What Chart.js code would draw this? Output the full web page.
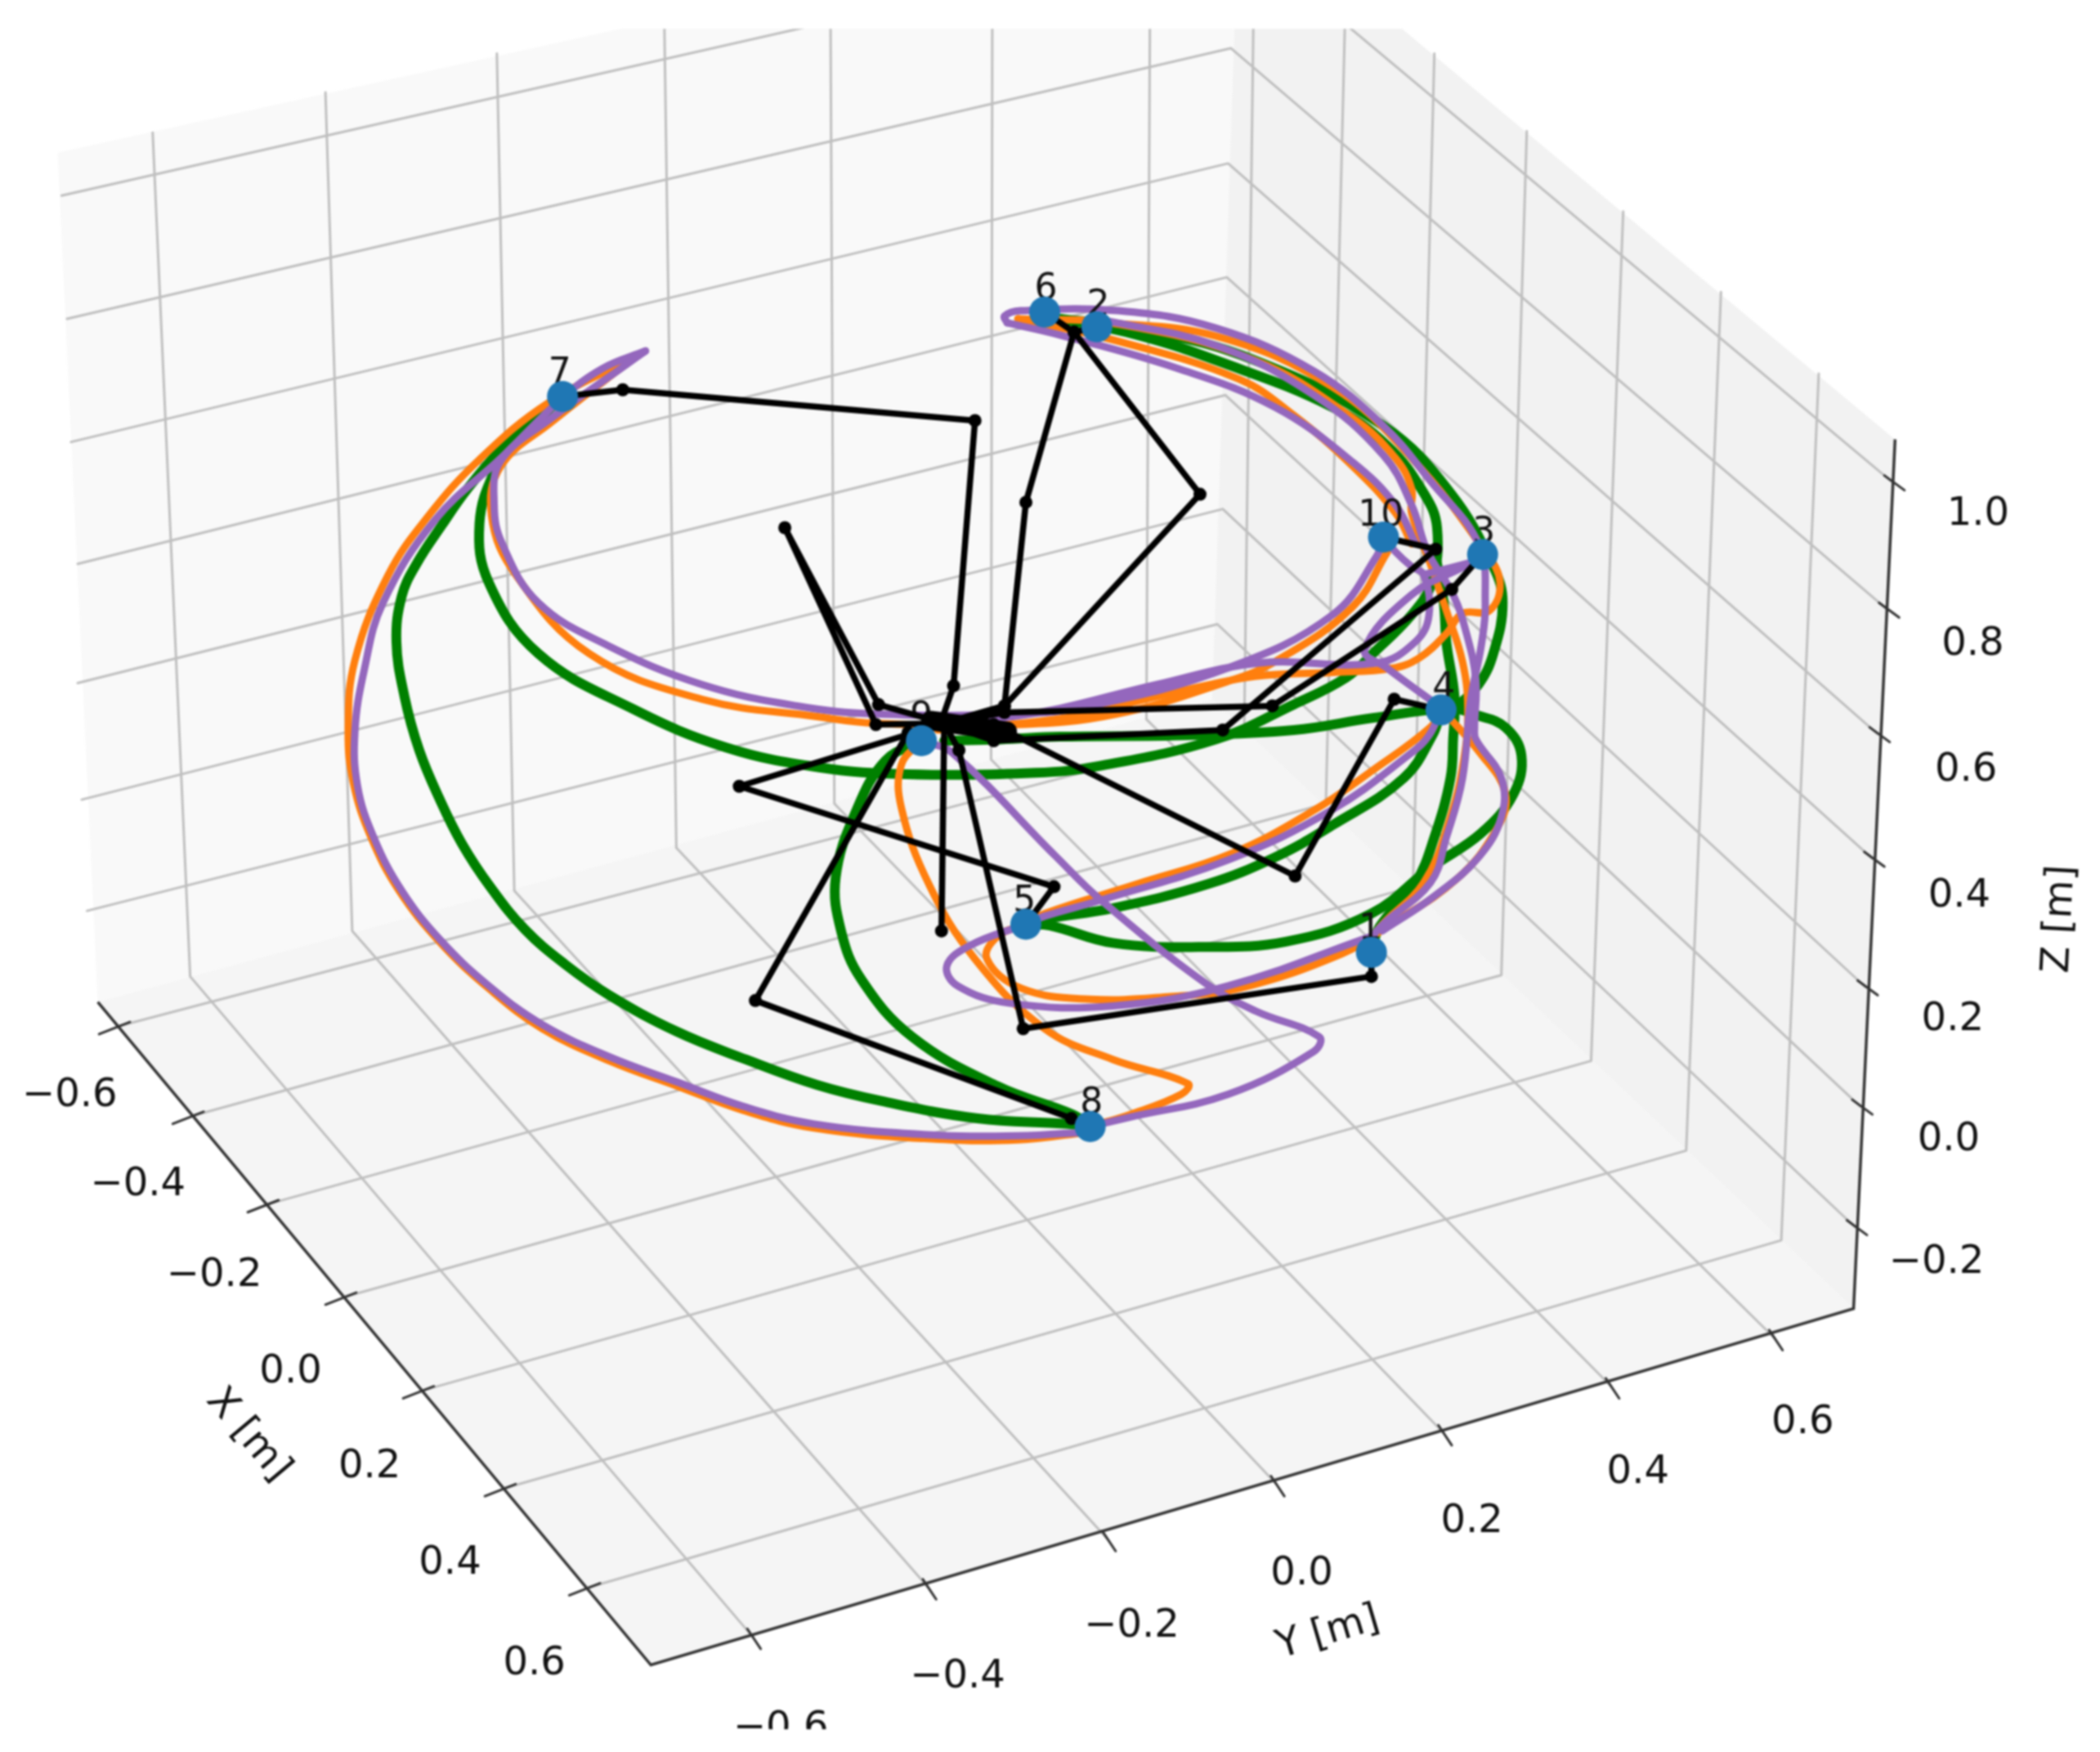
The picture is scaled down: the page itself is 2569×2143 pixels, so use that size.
<!DOCTYPE html>
<html>
<head>
<meta charset="utf-8">
<title>Trajectories 3D view</title>
<script src="https://cdn.jsdelivr.net/npm/chart.js@4/dist/chart.umd.js"></script>
<style>
  html, body { margin: 0; padding: 0; background: #fff; }
  canvas { display: block; filter: blur(1.2px); }
</style>
</head>
<body>
<canvas id="chart" width="2569" height="2143"></canvas>
<script>
'use strict';

// The figure is a 3D view, Chart.js has no 3D, so everything is read off the
// picture plane. Both hidden linear scales run over the plane (0-1568, 0-1308).
const PLANE_W = 1568;
const PLANE_H = 1308;

// --- box -------------------------------------------------------------------
const leftWall = [[43,114],[925,-80],[905,522],[73,748]];
const rightWall = [[925,-80],[1415,328],[1384,977],[905,522]];
const floorPane = [[73,748],[905,522],[1384,977],[486,1243]];
const axisEdges = [[73,748],[486,1243],[1384,977],[1415,328]];

// --- tick labels -----------------------------------------------------------
const xTickLabels = ['\u22120.6','\u22120.4','\u22120.2','0.0','0.2','0.4','0.6'];
const yTickLabels = ['\u22120.6','\u22120.4','\u22120.2','0.0','0.2','0.4','0.6'];
const zTickLabels = ['\u22120.2','0.0','0.2','0.4','0.6','0.8','1.0'];

const xTicks = [[89,766],[144,833],[200,899],[258,968],[316,1038],[377,1111],[440,1185]];
const yTicks = [[562,1222],[693,1185],[827,1149],[953,1108],[1078,1070],[1203,1035],[1325,999]];
const zTicks = [[1385,916],[1389,826],[1393,737],[1398,641],[1402,548],[1409,455],[1413,360]];

const xLabelAt = [[52,816],[103,882],[160,950],[217,1022],[276,1093],[336,1165],[399,1240]];
const yLabelAt = [[583,1288],[715,1250],[845,1212],[972,1173],[1099,1134],[1223,1097],[1346,1060]];
const zLabelAt = [[1446,940],[1455,849],[1458,759],[1463,667],[1468,573],[1473,479],[1477,382]];

// --- where the grid lines land on the back edges ---------------------------
const leftWallFoot = [[142,729],[263,695],[384,665],[505,633],[623,600],[740,567],[856,537]];
const leftWallHead = [[114,99],[243,69],[371,40],[496,14],[620,-12],[741,-37],[859,-63]];
const rightWallFoot = [[929,545],[990,600],[1055,662],[1121,728],[1188,792],[1259,859],[1330,926]];
const rightWallHead = [[937,-70],[1005,-15],[1071,40],[1140,98],[1212,158],[1285,218],[1358,279]];
const leftWallZ = [[65,680],[61,597],[58,510],[58,421],[53,330],[50,238],[46,146]];
const backCornerZ = [[909,466],[913,380],[915,295],[916,207],[917,122],[919,36],[921,-52]];

// --- green trajectory ------------------------------------------------------
const greenOuter = [[814,841],[795,839],[730,835],[658,822],[610,810],[557,791],[505,770],[455,743],[422,720],[392,694],[366,662],[345,630],[328,596],[313,560],[302,520],[296,479],[300,445],[311,421],[330,392],[349,365],[375,335],[405,310],[420,296]];
const greenInner = [[420,296],[385,330],[370,350],[358,391],[365,435],[402,488],[472,529],[542,558],[612,573],[676,578],[773,577],[820,572],[908,552],[966,526],[1005,506],[1025,488],[1054,459],[1069,435],[1073,394],[1063,368],[1036,333],[995,304],[908,269],[849,250],[791,238]];
const greenArc = [[791,238],[849,245],[937,269],[1033,318],[1083,368],[1115,423],[1122,450],[1115,488],[1104,511],[1085,530]];
const greenFourFive = [[1076,530],[1070,548],[1048,581],[995,616],[952,640],[902,660],[831,678],[780,686],[766,690]];
const greenBulge = [[766,690],[784,691],[831,704],[895,707],[960,703],[1024,682],[1068,648],[1106,622],[1130,593],[1136,564],[1124,543],[1103,534],[1083,529],[1025,536],[966,545],[879,549],[791,550],[747,552],[705,553]];
const greenNineEight = [[688,553],[661,568],[639,606],[624,655],[628,695],[643,731],[681,774],[745,811],[801,832],[814,841]];
const greenOneUp = [[1024,711],[1030,692],[1057,659],[1071,625],[1083,581],[1085,552],[1086,520],[1080,480],[1078,450],[1072,415]];

// --- orange trajectory -----------------------------------------------------
const orangeOuter = [[814,845],[760,851],[690,850],[607,842],[555,829],[506,811],[455,792],[405,768],[365,738],[329,704],[298,665],[277,625],[264,585],[260,546],[265,493],[290,429],[320,385],[358,343],[409,301],[475,266]];
const orangeInner = [[475,266],[412,315],[374,348],[367,385],[385,429],[440,488],[524,522],[610,535],[654,540],[759,541],[834,533],[916,509],[952,494],[1010,453],[1036,412]];
const orangeBack = [[1054,406],[1042,383],[1010,348],[966,310],[925,283],[832,254],[760,238]];
const orangeDown = [[760,238],[835,242],[937,269],[1010,312],[1042,342],[1054,365],[1054,383],[1068,421],[1080,456],[1092,494],[1096,529],[1093,567],[1083,610],[1063,659],[1028,695],[1024,711]];
const orangeArc = [[819,240],[908,251],[995,289],[1054,342],[1109,412],[1120,435],[1112,456],[1092,458],[1080,473],[1060,491],[1039,499],[995,502],[937,505],[864,520],[806,534],[762,540],[700,545]];
const orangeFourFive = [[1076,530],[1068,543],[1025,575],[981,605],[920,637],[849,660],[780,682],[766,690]];
const orangeLoop = [[766,690],[745,699],[737,716],[763,738],[814,746],[874,744],[925,738],[1002,712],[1037,691],[1088,656],[1118,618],[1124,592],[1105,562],[1077,530]];
const orangeNineEight = [[688,553],[673,571],[673,603],[694,661],[728,716],[780,768],[831,791],[887,809],[882,817],[844,832],[814,841]];

// --- purple trajectory -----------------------------------------------------
const purpleOuter = [[814,845],[760,848],[690,847],[607,839],[555,826],[506,808],[455,789],[405,765],[365,736],[329,702],[300,665],[279,625],[267,587],[265,546],[272,500],[286,450],[325,388],[374,342],[420,297],[450,275],[482,262]];
const purpleInner = [[482,262],[468,272],[412,312],[374,344],[369,377],[375,406],[402,450],[454,482],[524,511],[595,527],[654,533],[757,533],[814,527],[916,499],[995,459],[1028,415],[1033,401]];
const purpleBack = [[1057,406],[1042,377],[1010,345],[952,304],[879,275],[791,250],[752,241]];
const purpleTop = [[752,241],[750,236],[762,232],[835,232],[908,245],[981,277],[1033,318],[1068,359],[1104,406],[1109,450],[1106,482],[1098,523],[1092,581],[1080,625],[1068,659],[1028,695],[1024,711]];
const purpleBulge = [[819,238],[908,258],[981,295],[1033,340],[1054,377],[1066,412],[1085,444],[1095,473],[1102,508],[1101,543],[1102,552],[1121,581],[1121,610],[1104,640],[1071,669],[1032,695]];
const purpleThreeFour = [[1107,414],[1095,422],[1054,444],[1019,485],[1036,499],[1077,529]];
const purpleTenLoop = [[1033,401],[1042,412],[1054,423],[1063,429],[1067,459],[1057,479],[1028,495],[940,495],[864,511],[791,529],[756,535],[700,540]];
const purpleThreeLoop = [[1098,420],[1075,426],[1063,429]];
const purpleFourFive = [[1076,530],[1067,549],[1054,562],[994,605],[917,642],[822,672],[780,684],[766,690]];
const purpleLoop = [[766,690],[724,706],[707,721],[715,736],[754,749],[831,751],[917,736],[1024,699]];
const purpleNineEight = [[688,553],[711,562],[788,639],[822,672],[900,734],[938,755],[985,774],[981,785],[917,817],[844,834],[814,841]];

// --- black arm poses -------------------------------------------------------
const armSeven = [[703,538],[712,512],[728,314],[465,291],[420,296]];
const armSix = [[705,540],[750,527],[766,375],[802,248],[780,233]];
const armTwo = [[705,540],[750,527],[896,369],[802,248],[819,244]];
const armFold = [[705,540],[656,526],[586,394],[654,541],[705,540]];
const armThree = [[705,540],[750,532],[950,527],[1084,440],[1107,414]];
const armTen = [[705,540],[742,553],[913,545],[1072,410],[1033,401]];
const armFour = [[705,540],[742,541],[967,654],[1041,522],[1076,530]];
const armOne = [[705,540],[716,560],[764,768],[1024,729],[1024,711]];
const armEight = [[705,540],[678,547],[564,747],[800,835],[814,841]];
const armFive = [[705,540],[552,587],[787,662],[766,690]];
const armDown = [[705,540],[703,695],[705,540]];
const armHub = [[695,538],[752,546]];

// --- numbered way points ---------------------------------------------------
const wayPointNames = ['1','2','3','4','5','6','7','8','9','10'];
const wayPoints = [[1024,711],[819,244],[1107,414],[1076,530],[766,690],[780,233],[420,296],[814,841],[688,553],[1033,401]];
const wayLabelAt = [[1023,692],[820,226],[1108,396],[1078,512],[765,671],[781,214],[418,277],[815,822],[688,534],[1031,383]];

const toXY = pts => pts.map(p => ({ x: p[0], y: p[1] }));
const datasets = [];

function addPane(pts, color) {
  datasets.push({ data: toXY(pts), showLine: true, fill: 'shape', backgroundColor: color, borderWidth: 0, pointRadius: 0 });
}
function addLine(pts, color, width, extra) {
  datasets.push(Object.assign({
    data: toXY(pts), showLine: true, fill: false, borderColor: color, borderWidth: width,
    borderCapStyle: 'round', borderJoinStyle: 'round', pointRadius: 0
  }, extra || {}));
}

addPane(leftWall, '#f9f9f9');
addPane(rightWall, '#f2f2f2');
addPane(floorPane, '#f5f5f5');

// grid, back walls then floor
const GRID = '#bfbfbf';
leftWallFoot.forEach((p, i) => addLine([leftWallHead[i], p, yTicks[i]], GRID, 3));
rightWallFoot.forEach((p, i) => addLine([rightWallHead[i], p, xTicks[i]], GRID, 3));
backCornerZ.forEach((p, i) => addLine([leftWallZ[i], p, zTicks[i]], GRID, 3));

// axis edges and tick marks
addLine(axisEdges, '#333', 3.5, { borderCapStyle: 'butt', borderJoinStyle: 'miter' });
xTicks.forEach(p => addLine([[p[0] - 15, p[1] + 6], [p[0] + 8, p[1] - 3]], '#333', 3));
yTicks.forEach(p => addLine([[p[0] - 4, p[1] - 6], [p[0] + 6, p[1] + 9]], '#333', 3));
zTicks.forEach(p => addLine([[p[0] - 6, p[1] - 5], [p[0] + 9, p[1] + 6]], '#333', 3));

const CURVE = { tension: 0.4 };
[greenOuter, greenInner, greenArc, greenFourFive, greenBulge, greenNineEight, greenOneUp]
  .forEach(c => addLine(c, '#008000', 12, CURVE));
[orangeOuter, orangeInner, orangeBack, orangeDown, orangeArc, orangeFourFive, orangeLoop, orangeNineEight]
  .forEach(c => addLine(c, '#ff7f0e', 9, CURVE));
[purpleOuter, purpleInner, purpleBack, purpleTop, purpleBulge, purpleThreeFour, purpleTenLoop, purpleThreeLoop, purpleFourFive, purpleLoop, purpleNineEight]
  .forEach(c => addLine(c, '#9467bd', 9, CURVE));

// way point numbers sit under the arms and the blue dots
const numbersAfter = datasets.length - 1;

[armSeven, armSix, armTwo, armFold, armThree, armTen, armFour, armOne, armEight, armFive, armDown]
  .forEach(a => addLine(a, '#000', 7.5, { pointRadius: 8, pointBackgroundColor: '#000', pointBorderWidth: 0 }));
addLine(armHub, '#000', 24);

datasets.push({ data: toXY(wayPoints), showLine: false, pointRadius: 19, pointBackgroundColor: '#1f77b4', pointBorderWidth: 0 });

// paint in the order pushed: Chart.js draws the highest order first
datasets.forEach((d, i) => { d.order = datasets.length - i; });

function putText(chart, text, at, rotDeg) {
  const ctx = chart.ctx;
  ctx.save();
  ctx.translate(chart.scales.x.getPixelForValue(at[0]), chart.scales.y.getPixelForValue(at[1]));
  if (rotDeg) ctx.rotate(rotDeg * Math.PI / 180);
  ctx.fillText(text, 0, 4);
  ctx.restore();
}

const textPlugin = {
  id: 'planeText',
  afterDatasetDraw(chart, args) {
    if (args.index !== numbersAfter) return;
    const ctx = chart.ctx;
    ctx.font = '44px "DejaVu Sans"';
    ctx.fillStyle = '#111';
    ctx.textAlign = 'center';
    ctx.textBaseline = 'middle';
    wayPointNames.forEach((t, i) => putText(chart, t, wayLabelAt[i]));
  },
  afterDatasetsDraw(chart) {
    const ctx = chart.ctx;
    ctx.font = '48px "DejaVu Sans"';
    ctx.fillStyle = '#111';
    ctx.textAlign = 'center';
    ctx.textBaseline = 'middle';
    xTickLabels.forEach((t, i) => putText(chart, t, xLabelAt[i]));
    yTickLabels.forEach((t, i) => putText(chart, t, yLabelAt[i]));
    zTickLabels.forEach((t, i) => putText(chart, t, zLabelAt[i]));
    putText(chart, 'X [m]', [187, 1070], 50);
    putText(chart, 'Y [m]', [991, 1217], -16.5);
    putText(chart, 'Z [m]', [1536, 686], -87);

    // the source image is cropped top and bottom
    const sx = chart.scales.x, sy = chart.scales.y;
    ctx.fillStyle = '#fff';
    ctx.fillRect(0, 0, sx.getPixelForValue(PLANE_W), sy.getPixelForValue(21.5));
    ctx.fillRect(0, sy.getPixelForValue(1291), sx.getPixelForValue(PLANE_W), chart.height);
  }
};

new Chart(document.getElementById('chart'), {
  type: 'scatter',
  data: { datasets },
  plugins: [textPlugin],
  options: {
    responsive: false,
    animation: false,
    layout: { autoPadding: false, padding: 0 },
    plugins: { legend: { display: false }, tooltip: { enabled: false } },
    events: [],
    scales: {
      x: { type: 'linear', display: false, min: 0, max: PLANE_W },
      y: { type: 'linear', display: false, reverse: true, min: 0, max: PLANE_H }
    }
  }
});
</script>
</body>
</html>
